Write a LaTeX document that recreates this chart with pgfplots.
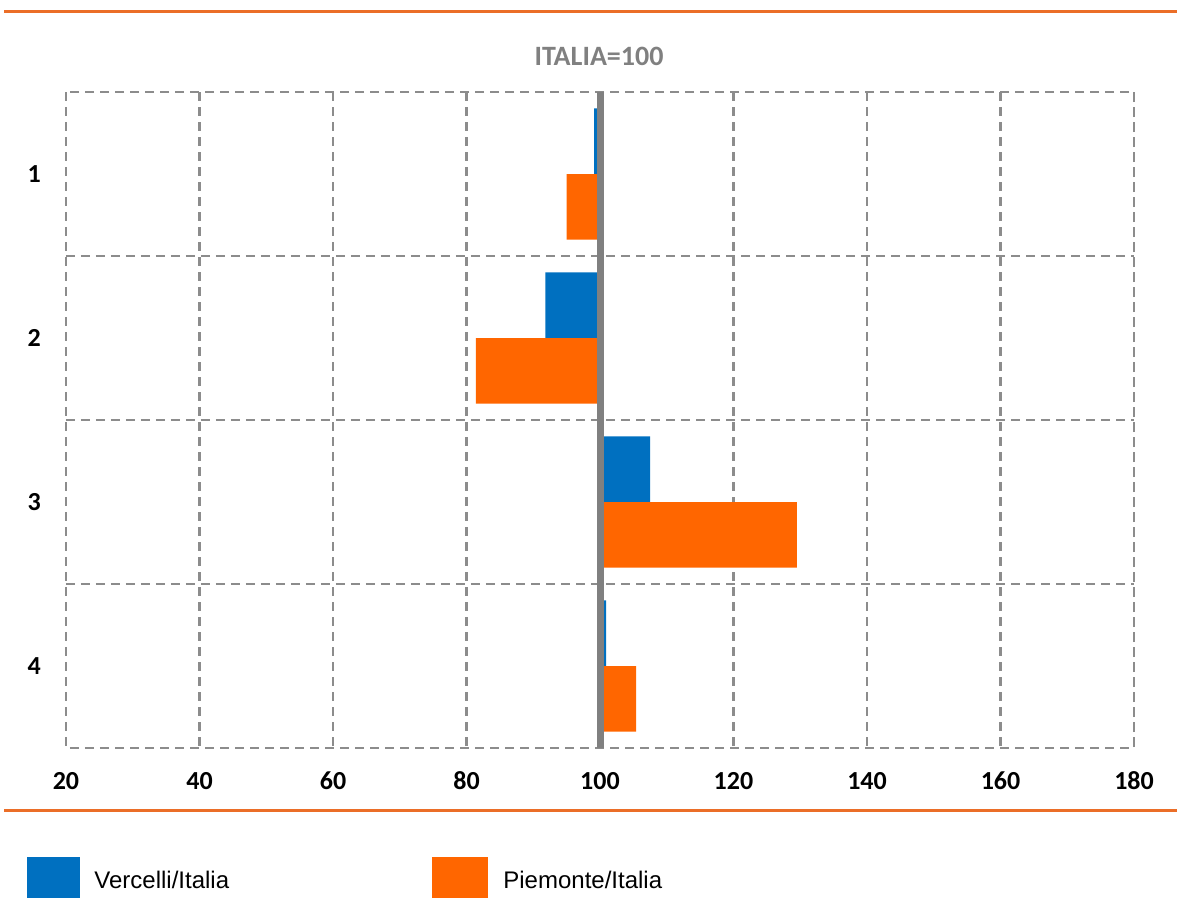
\documentclass[border=0pt]{standalone}
\usepackage{fontspec}
\setmainfont{Carlito}
\newfontfamily\legendfont{Liberation Sans}
\usepackage{pgfplots}
\pgfplotsset{compat=1.18}
\definecolor{vblue}{RGB}{0,112,192}
\definecolor{porange}{RGB}{255,102,0}
\definecolor{ruleorange}{RGB}{235,110,40}
\definecolor{gridgray}{RGB}{140,140,140}
\definecolor{basegray}{RGB}{128,128,128}
\definecolor{titlegray}{RGB}{128,128,128}
\begin{document}
\begin{tikzpicture}[x=1pt,y=1pt]
\useasboundingbox (0,0) rectangle (588.5,-449);
\draw[ruleorange, line width=1.5pt] (2,-6) -- (588.5,-6);
\draw[ruleorange, line width=1.5pt] (2,-405) -- (588.5,-405);
\node[font=\bfseries\fontsize{14}{16}\selectfont, text=titlegray] at (299.5,-28) {ITALIA=100};
\begin{axis}[
  at={(300pt,-210pt)}, anchor=center,
  scale only axis, width=534pt, height=328pt,
  xmin=-80, xmax=80, ymin=0.5, ymax=4.5,
  y dir=reverse,
  xtick={-80,-60,-40,-20,0,20,40,60,80},
  xticklabels={20,40,60,80,100,120,140,160,180},
  ytick={1,2,3,4},
  minor ytick={1.5,2.5,3.5},
  xmajorgrids, yminorgrids,
  major grid style={gridgray, line width=1.1pt, dash pattern=on 4.5pt off 3pt},
  minor grid style={gridgray, line width=1.1pt, dash pattern=on 4.5pt off 3pt},
  axis line style={gridgray, line width=1.1pt, dash pattern=on 4.5pt off 3pt},
  major tick length=0pt, minor tick length=0pt,
  /pgf/number format/assume math mode=true,
  xticklabel style={font=\bfseries\fontsize{13}{15}\selectfont, anchor=base, yshift=-20.5pt},
  yticklabel style={font=\bfseries\fontsize{13}{15}\selectfont, xshift=-9pt},
  clip=false,
]
\addplot[xbar, bar width=0.4, bar shift=-0.2, fill=vblue, draw=none, x filter/.expression={x-100}]
  coordinates {(99.1,1) (91.8,2) (107.5,3) (100.9,4)};
\addplot[xbar, bar width=0.4, bar shift=0.2, fill=porange, draw=none, x filter/.expression={x-100}]
  coordinates {(95.0,1) (81.4,2) (129.5,3) (105.4,4)};
\draw[basegray, line width=3.5pt] (axis cs:0.05,0.5) -- (axis cs:0.05,4.5);
\end{axis}
\fill[vblue] (13.5,-428.5) rectangle (40,-449);
\node[anchor=base west, inner sep=0, font=\legendfont\fontsize{12}{14}\selectfont] at (47,-444) {Vercelli/Italia};
\fill[porange] (216,-428.5) rectangle (244,-449);
\node[anchor=base west, inner sep=0, font=\legendfont\fontsize{12}{14}\selectfont] at (251.5,-444) {Piemonte/Italia};
\end{tikzpicture}
\end{document}
